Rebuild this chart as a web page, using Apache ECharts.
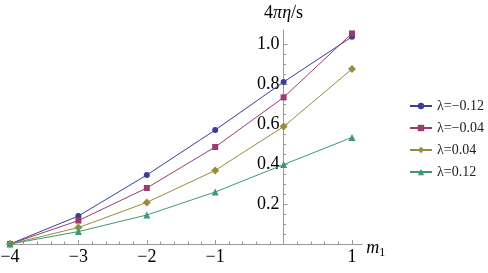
<!DOCTYPE html>
<html>
<head>
<meta charset="utf-8">
<script src="https://cdn.jsdelivr.net/npm/echarts@6/dist/echarts.min.js"></script>
<style>html,body{margin:0;padding:0;background:#fff}#c{width:488px;height:273px}</style>
</head>
<body>
<div id="c"></div>
<script>
const m1 = [-4, -3, -2, -1, 0, 1];
const seriesNames = ['λ=−0.12', 'λ=−0.04', 'λ=0.04', 'λ=0.12'];
const lamNeg012 = [0, 0.14, 0.345, 0.57, 0.81, 1.036];
const lamNeg004 = [0, 0.117, 0.28, 0.485, 0.733, 1.053];
const lamPos004 = [0, 0.082, 0.208, 0.368, 0.587, 0.875];
const lamPos012 = [0, 0.062, 0.145, 0.26, 0.397, 0.533];
const values = [lamNeg012, lamNeg004, lamPos004, lamPos012];

const colors = ['#3d3d99', '#993d71', '#998b3d', '#3d9971'];
const symbols = ['circle', 'rect', 'diamond', 'triangle'];
const sizes = [6, 6, 8, 7];
const FONT = '"Liberation Serif", "DejaVu Serif", serif';
const axisGray = '#999999';

const X_MIN = -4, X_MAX_TICKS = 1, X_MAX_LINE = 1.15;
const PX_PER_X = 68.4;
const GRID_LEFT = 10;
const tickGridWidth = (X_MAX_TICKS - X_MIN) * PX_PER_X;
const lineGridWidth = (X_MAX_LINE - X_MIN) * PX_PER_X;
const yAxisOffset = -(0 - X_MIN) * PX_PER_X;

const chart = echarts.init(document.getElementById('c'), null, {renderer: 'canvas'});
const minus = s => String(s).replace('-', '−');

chart.setOption({
  animation: false,
  backgroundColor: '#fff',
  grid: [
    {left: GRID_LEFT, top: 30, width: lineGridWidth, height: 214, containLabel: false, outerBoundsMode: 'none'},
    {left: GRID_LEFT, top: 44, width: tickGridWidth, height: 200, containLabel: false, outerBoundsMode: 'none'}
  ],
  legend: {
    orient: 'vertical', left: 404, top: 94, itemWidth: 22, itemHeight: 8, itemGap: 8,
    textStyle: {fontFamily: FONT, fontSize: 14, color: '#222'},
    data: seriesNames
  },
  xAxis: [
    {type: 'value', gridIndex: 0, min: X_MIN, max: X_MAX_LINE,
     axisLine: {show: true, onZero: false, lineStyle: {color: axisGray, width: 1}},
     axisTick: {show: false}, axisLabel: {show: false}, splitLine: {show: false},
     name: '{i|m}{s|1}', nameLocation: 'end', nameGap: 4,
     nameTextStyle: {fontFamily: FONT, fontSize: 18, color: '#000', padding: [8, 0, 0, 0],
       rich: {i: {fontFamily: FONT, fontStyle: 'italic', fontSize: 18, color: '#000'},
              s: {fontFamily: FONT, fontSize: 12, color: '#000', padding: [10, 0, 0, 0]}}}},
    {type: 'value', gridIndex: 1, min: X_MIN, max: X_MAX_TICKS, interval: 1,
     axisLine: {show: false, onZero: false},
     axisTick: {show: true, inside: true, length: 4, lineStyle: {color: axisGray}},
     minorTick: {show: true, splitNumber: 5, length: 2.5, lineStyle: {color: axisGray}},
     splitLine: {show: false},
     axisLabel: {margin: 4, fontFamily: FONT, fontSize: 18, color: '#000',
       formatter: v => v === 0 ? '' : minus(v)}}
  ],
  yAxis: [
    {type: 'value', gridIndex: 0, min: 0, max: 1.07,
     axisLine: {show: true, onZero: true, lineStyle: {color: axisGray, width: 1}},
     axisTick: {show: false}, axisLabel: {show: false}, splitLine: {show: false},
     name: '{n|4}{i|πη}{n|/s}', nameLocation: 'end', nameGap: 8,
     nameTextStyle: {fontFamily: FONT, fontSize: 18, color: '#000',
       rich: {n: {fontFamily: FONT, fontSize: 18, color: '#000'},
              i: {fontFamily: FONT, fontSize: 18, fontStyle: 'italic', color: '#000'}}}},
    {type: 'value', gridIndex: 1, min: 0, max: 1, interval: 0.2,
     position: 'left', offset: yAxisOffset,
     axisLine: {show: false, onZero: false},
     axisTick: {show: true, inside: true, length: 4, lineStyle: {color: axisGray}},
     minorTick: {show: true, splitNumber: 4, length: 2.5, lineStyle: {color: axisGray}},
     splitLine: {show: false},
     axisLabel: {margin: 4, fontFamily: FONT, fontSize: 18, color: '#000',
       formatter: v => v === 0 ? '' : v.toFixed(1)}}
  ],
  series: values.map((vals, k) => ({
    name: seriesNames[k], type: 'line', xAxisIndex: 0, yAxisIndex: 0,
    data: m1.map((x, i) => [x, vals[i]]),
    symbol: symbols[k], symbolSize: sizes[k], showSymbol: true,
    lineStyle: {width: 1, color: colors[k]},
    itemStyle: {color: colors[k]},
    clip: false, z: 3 + k
  }))
});
</script>
</body>
</html>
